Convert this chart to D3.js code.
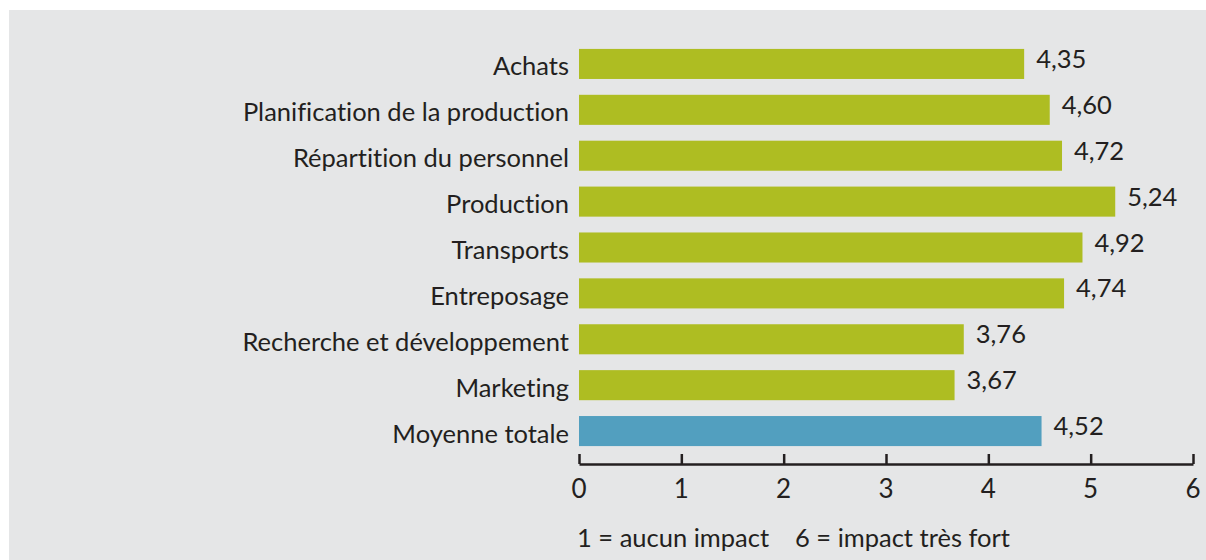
<!DOCTYPE html>
<html>
<head>
<meta charset="utf-8">
<script src="https://cdn.jsdelivr.net/npm/d3@7"></script>
<style>
  body { margin: 0; background: #ffffff; }
  text { font-family: "Lato", "Liberation Sans", sans-serif; fill: #231f20;
         font-variant-ligatures: none; font-feature-settings: "liga" 0; }
</style>
</head>
<body>
<div id="chart"></div>
<script>
var categories = ["Achats", "Planification de la production", "Répartition du personnel",
    "Production", "Transports", "Entreposage", "Recherche et développement",
    "Marketing", "Moyenne totale"];
var values = [4.35, 4.60, 4.72, 5.24, 4.92, 4.74, 3.76, 3.67, 4.52];
var ticks = [0, 1, 2, 3, 4, 5, 6];
var notes = ["1 = aucun impact", "6 = impact très fort"];

var W = 1206, H = 560;
var greenColor = "#aebd22";
var blueColor = "#529fbf";
var fmt = d3.format(".2f");

var data = categories.map((c, i) => ({ cat: c, value: values[i], total: i === categories.length - 1 }));

var svg = d3.select("#chart").append("svg")
    .attr("width", W)
    .attr("height", H);

// grey panel
svg.append("rect")
    .attr("x", 9).attr("y", 10)
    .attr("width", W - 9).attr("height", H - 10)
    .attr("fill", "#e5e6e7");

var x = d3.scaleLinear().domain([0, 6]).range([579, 1193]);
var y = d3.scaleBand()
    .domain(categories)
    .range([41, 454])
    .paddingInner(0.345)
    .paddingOuter(0.1725);

svg.selectAll(".bar")
    .data(data)
    .enter().append("rect")
    .attr("class", "bar")
    .attr("x", x(0))
    .attr("y", d => y(d.cat))
    .attr("width", d => x(d.value) - x(0))
    .attr("height", y.bandwidth())
    .attr("fill", d => d.total ? blueColor : greenColor);

// category labels
svg.selectAll(".cat")
    .data(data)
    .enter().append("text")
    .attr("class", "cat")
    .attr("x", x(0) - 10)
    .attr("y", d => y(d.cat) + y.bandwidth() / 2 + 11.5)
    .attr("text-anchor", "end")
    .style("font-size", "25.5px")
    .text(d => d.cat);

// value labels
svg.selectAll(".val")
    .data(data)
    .enter().append("text")
    .attr("class", "val")
    .attr("x", d => x(d.value) + 12)
    .attr("y", d => y(d.cat) + y.bandwidth() / 2 + 4)
    .style("font-size", "25.5px")
    .text(d => fmt(d.value).replace(".", ","));

// axis
var axisY = 464;
var xAxis = d3.axisTop(x).tickValues(ticks).tickSize(10).tickSizeOuter(0).tickFormat("");
var gx = svg.append("g")
    .attr("transform", "translate(0," + axisY + ")")
    .call(xAxis);
gx.select(".domain").attr("stroke", "#231f20").attr("stroke-width", 2.5);
gx.selectAll(".tick line").attr("stroke", "#231f20").attr("stroke-width", 2.5);

svg.selectAll(".tlab")
    .data(ticks)
    .enter().append("text")
    .attr("class", "tlab")
    .attr("x", d => x(d))
    .attr("y", 498)
    .attr("text-anchor", "middle")
    .style("font-size", "26px")
    .text(d => d);

svg.selectAll(".note")
    .data(notes)
    .enter().append("text")
    .attr("class", "note")
    .attr("x", (d, i) => i === 0 ? 577 : 795)
    .attr("y", 547)
    .style("font-size", "25.5px")
    .text(d => d);
</script>
</body>
</html>
